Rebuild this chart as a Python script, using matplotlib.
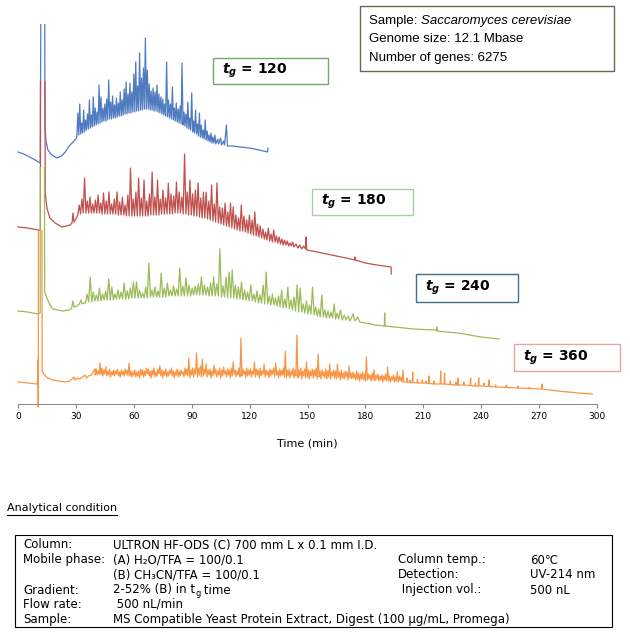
import matplotlib
matplotlib.use("Agg")
from matplotlib import pyplot as plt
from matplotlib.patches import Rectangle
from matplotlib.lines import Line2D

W, H = 630, 638

plt.rcParams['font.family'] = ['DejaVu Sans']
plt.rcParams['mathtext.fontset'] = 'custom'
plt.rcParams['mathtext.rm'] = 'DejaVu Sans'
plt.rcParams['mathtext.it'] = 'DejaVu Sans:italic:bold'
plt.rcParams['mathtext.bf'] = 'DejaVu Sans:bold'

# chromatograms: (time [min], signal [a.u., stacked offset])
trace_120 = [
    (0, 252), (3, 250), (6, 247), (9, 244), (11.5, 241), (11.9, 420), (13.8, 420), (14.0, 274), (14.6, 262),
    (15.5, 254), (17.5, 249), (20.2, 246), (22.5, 248), (24.5, 252), (26.5, 258), (28.5, 262), (30.0, 265),
    (30.5, 267), (31.0, 291), (31.5, 269), (32.0, 300), (32.5, 270), (33.0, 281), (33.5, 271), (34.0, 294),
    (34.5, 272), (35.0, 284), (35.5, 274), (36.0, 290), (36.5, 275), (37.0, 304), (37.5, 276), (38.0, 289),
    (38.5, 277), (39.0, 307), (39.5, 278), (40.0, 296), (40.5, 279), (41.0, 292), (41.5, 280), (42.0, 319),
    (42.5, 281), (43.0, 307), (43.5, 282), (44.0, 296), (44.5, 283), (45.0, 300), (45.5, 283), (46.0, 305),
    (46.5, 284), (47.0, 324), (47.5, 285), (48.0, 302), (48.5, 285), (49.0, 308), (49.5, 286), (50.0, 299),
    (50.5, 286), (51.0, 306), (51.5, 287), (52.0, 301), (52.5, 288), (53.0, 312), (53.5, 288), (54.0, 304),
    (54.5, 289), (55.0, 315), (55.5, 290), (56.0, 322), (56.5, 290), (57.0, 310), (57.5, 291), (58.0, 321),
    (58.5, 291), (59.0, 312), (59.5, 292), (60.0, 330), (60.5, 292), (61.0, 342), (61.5, 293), (62.0, 318),
    (62.5, 293), (63.0, 351), (63.5, 294), (64.0, 326), (64.5, 294), (65.0, 336), (65.5, 295), (66.0, 366),
    (66.5, 295), (67.0, 334), (67.5, 295), (68.0, 320), (68.5, 294), (69.0, 313), (69.5, 294), (70.0, 316),
    (70.5, 293), (71.0, 312), (71.5, 293), (72.0, 319), (72.5, 292), (73.0, 310), (73.5, 291), (74.0, 307),
    (74.5, 290), (75.0, 305), (75.5, 289), (76.0, 300), (76.5, 288), (77.0, 342), (77.5, 287), (78.0, 304),
    (78.5, 286), (79.0, 300), (79.5, 285), (80.0, 317), (80.5, 284), (81.0, 296), (81.5, 283), (82.0, 301),
    (82.5, 282), (83.0, 295), (83.5, 281), (84.0, 298), (84.5, 280), (85.0, 341), (85.5, 279), (86.0, 292),
    (86.5, 278), (87.0, 290), (87.5, 276), (88.0, 302), (88.5, 275), (89.0, 286), (89.5, 274), (90.0, 311),
    (90.5, 272), (91.0, 283), (91.5, 271), (92.0, 294), (92.5, 270), (93.0, 280), (93.5, 268), (94.0, 291),
    (94.5, 267), (95.0, 279), (95.5, 266), (96.0, 274), (96.5, 265), (97.0, 284), (97.5, 264), (98.0, 273),
    (98.5, 263), (99.0, 269), (99.5, 262), (100.0, 271), (100.5, 261), (101.0, 267), (101.5, 261), (102.0, 269),
    (102.5, 260), (103.5, 265), (104.0, 260), (105.0, 266), (105.5, 259), (106.5, 263), (107.0, 259),
    (108.0, 279), (108.5, 258), (111, 258), (115, 257), (120, 256), (125, 254), (129.3, 252), (129.5, 256),
]

trace_180 = [
    (0, 177), (5, 176), (10.5, 174), (11.6, 174), (11.7, 420), (13.9, 420), (14.1, 211), (15.0, 196),
    (16.5, 186), (19.2, 181), (22.8, 177), (27.0, 179), (28.0, 181), (28.5, 191), (29.0, 182), (30.0, 185),
    (31.0, 189), (31.7, 199), (32.4, 190), (33.1, 205), (33.8, 191), (34.5, 226), (35.2, 191), (35.9, 203),
    (36.6, 191), (37.3, 207), (38.0, 191), (38.7, 200), (39.4, 191), (40.1, 204), (40.8, 191), (41.5, 209),
    (42.2, 191), (42.9, 201), (43.6, 190), (44.3, 211), (45.0, 190), (45.7, 203), (46.4, 190), (47.1, 212),
    (47.8, 190), (48.5, 200), (49.2, 190), (49.9, 205), (50.6, 190), (51.3, 212), (52.0, 189), (52.7, 202),
    (53.4, 189), (54.1, 207), (54.8, 189), (55.5, 199), (56.2, 188), (56.9, 209), (57.6, 188), (58.3, 236),
    (59.0, 188), (59.7, 205), (60.4, 188), (61.1, 212), (61.8, 188), (62.5, 226), (63.2, 188), (63.9, 206),
    (64.6, 188), (65.3, 224), (66.0, 188), (66.7, 203), (67.4, 188), (68.1, 210), (68.8, 189), (69.5, 232),
    (70.2, 189), (70.9, 207), (71.6, 189), (72.3, 224), (73.0, 189), (73.7, 205), (74.4, 190), (75.1, 214),
    (75.8, 190), (76.5, 206), (77.2, 190), (77.9, 221), (78.6, 190), (79.3, 210), (80.0, 190), (80.7, 208),
    (81.4, 191), (82.1, 222), (82.8, 191), (83.5, 212), (84.2, 191), (84.9, 207), (85.6, 190), (86.3, 250),
    (87.0, 190), (87.7, 212), (88.4, 189), (89.1, 224), (89.8, 189), (90.5, 210), (91.2, 188), (91.9, 214),
    (92.6, 188), (93.3, 221), (94.0, 187), (94.7, 206), (95.4, 186), (96.1, 212), (96.8, 186), (97.5, 212),
    (98.2, 185), (98.9, 203), (99.6, 184), (100.3, 219), (101.0, 183), (101.7, 200), (102.4, 182), (103.1, 221),
    (103.8, 181), (104.5, 197), (105.2, 180), (105.9, 196), (106.6, 179), (107.3, 201), (108.0, 178),
    (108.7, 192), (109.4, 177), (110.1, 201), (110.8, 176), (111.5, 197), (112.2, 175), (112.9, 189),
    (113.6, 174), (114.3, 186), (115.0, 173), (115.7, 199), (116.4, 173), (117.1, 188), (117.8, 172),
    (118.5, 184), (119.2, 171), (119.9, 189), (120.6, 170), (121.3, 184), (122.0, 169), (122.7, 192),
    (123.4, 168), (124.1, 180), (124.8, 167), (125.5, 178), (126.2, 166), (126.9, 175), (127.6, 165),
    (128.3, 172), (129.0, 164), (129.7, 176), (130.4, 163), (131.1, 170), (131.8, 162), (132.5, 174),
    (133.2, 162), (133.9, 168), (134.6, 161), (135.3, 167), (136.0, 160), (136.7, 165), (137.4, 159),
    (138.1, 164), (138.8, 159), (139.5, 163), (140.2, 158), (140.9, 161), (141.6, 158), (142.3, 162),
    (143.0, 157), (144.0, 160), (145.0, 156), (146.0, 159), (147.0, 155), (148.0, 158), (149.0, 155),
    (149.3, 167), (149.6, 154), (155, 152), (160, 150), (165, 148), (170, 146), (174.4, 144), (174.6, 147),
    (174.8, 144), (180, 141), (186, 139), (193.3, 137), (193.4, 130),
]

trace_240 = [
    (0, 93), (5, 92), (10.3, 90), (11.5, 91), (11.6, 420), (13.6, 420), (13.8, 112), (15.0, 106), (16.5, 99),
    (18.1, 95), (22.8, 93), (26.5, 94), (27.8, 96), (28.4, 103), (29.0, 97), (30.6, 98), (31.8, 100),
    (32.6, 104), (33.2, 100), (34.2, 101),
    (35.0, 101), (35.8, 110), (36.6, 102), (37.4, 127), (38.2, 102), (39.0, 112), (39.8, 103), (40.6, 109),
    (41.4, 103), (42.2, 116), (43.0, 103), (43.8, 110), (44.6, 104), (45.4, 113), (46.2, 104), (47.0, 125),
    (47.8, 104), (48.6, 117), (49.4, 104), (50.2, 110), (51.0, 105), (51.8, 114), (52.6, 105), (53.4, 112),
    (54.2, 105), (55.0, 121), (55.8, 105), (56.6, 113), (57.4, 105), (58.2, 116), (59.0, 106), (59.8, 122),
    (60.6, 106), (61.4, 122), (62.2, 106), (63.0, 114), (63.8, 106), (64.6, 111), (65.4, 106), (66.2, 117),
    (67.0, 106), (67.8, 141), (68.6, 107), (69.4, 114), (70.2, 107), (71.0, 117), (71.8, 107), (72.6, 113),
    (73.4, 107), (74.2, 131), (75.0, 107), (75.8, 116), (76.6, 107), (77.4, 121), (78.2, 108), (79.0, 114),
    (79.8, 108), (80.6, 118), (81.4, 108), (82.2, 115), (83.0, 108), (83.8, 136), (84.6, 108), (85.4, 118),
    (86.2, 108), (87.0, 126), (87.8, 108), (88.6, 119), (89.4, 108), (90.2, 116), (91.0, 109), (91.8, 118),
    (92.6, 109), (93.4, 120), (94.2, 109), (95.0, 127), (95.8, 109), (96.6, 119), (97.4, 109), (98.2, 117),
    (99.0, 108), (99.8, 121), (100.6, 108), (101.4, 127), (102.2, 108), (103.0, 120), (103.8, 108),
    (104.6, 155), (105.4, 107), (106.2, 118), (107.0, 107), (107.8, 127), (108.6, 106), (109.4, 132),
    (110.2, 106), (111.0, 134), (111.8, 106), (112.6, 119), (113.4, 105), (114.2, 117), (115.0, 105),
    (115.8, 122), (116.6, 104), (117.4, 114), (118.2, 104), (119.0, 112), (119.8, 103), (120.6, 119),
    (121.4, 103), (122.2, 110), (123.0, 102), (123.8, 113), (124.6, 101), (125.4, 109), (126.2, 101),
    (127.0, 119), (127.8, 100), (128.6, 132), (129.4, 100), (130.2, 108), (131.0, 99), (131.8, 110),
    (132.6, 99), (133.4, 106), (134.2, 98), (135.0, 108), (135.8, 97), (136.6, 114), (137.4, 96), (138.2, 105),
    (139.0, 96), (139.8, 117), (140.6, 95), (141.4, 104), (142.2, 94), (143.0, 107), (143.8, 93), (144.6, 119),
    (145.4, 92), (146.2, 116), (147.0, 92), (147.8, 100), (148.6, 91), (149.4, 103), (150.2, 90), (151.0, 99),
    (151.8, 90), (152.6, 117), (153.4, 89), (154.2, 97), (155.0, 88), (155.8, 95), (156.6, 87), (157.4, 109),
    (158.2, 87), (159.0, 94), (159.8, 86), (160.6, 93), (161.4, 86), (162.2, 92), (163.0, 86), (163.8, 100),
    (164.6, 85), (165.4, 91), (166.2, 85), (167.0, 94), (168.0, 84), (169.0, 89), (170.0, 84), (171.0, 88),
    (172.0, 83), (173.6, 90), (174.5, 83), (176.0, 87), (177.0, 82),
    (180, 81), (185, 79), (189.8, 78), (190.0, 91), (190.2, 78), (195, 77), (200, 76), (205, 75), (210, 74.5),
    (216.8, 74), (217.0, 77), (217.2, 73), (222, 72), (228, 71), (234, 69), (240, 67), (245, 66), (249.2, 65),
]

trace_360 = [
    (0, 22), (5, 21), (10.0, 20), (10.3, 44), (10.5, -3), (10.7, 420), (12.3, 420), (12.5, 33), (13.5, 29),
    (15.5, 26), (18, 24), (21, 23), (24.4, 22), (26.5, 23), (28.0, 25), (29.0, 27), (29.5, 24), (30.5, 26),
    (32, 25), (33.5, 27), (34.7, 29), (35.5, 26), (36.5, 28), (38.0, 29), (39.2, 33), (39.9, 35),
    (40.0, 29), (40.5, 35), (41.0, 29), (41.5, 33), (42.0, 30), (42.5, 41), (43.0, 29), (43.5, 36), (44.0, 28),
    (44.5, 34), (45.0, 30), (45.5, 37), (46.0, 28), (46.5, 33), (47.0, 29), (47.5, 35), (48.0, 27), (48.5, 32),
    (49.0, 29), (49.5, 34), (50.0, 28), (50.5, 33), (51.0, 30), (51.5, 35), (52.0, 28), (52.5, 32), (53.0, 27),
    (53.5, 34), (54.0, 29), (54.5, 33), (55.0, 28), (55.5, 35), (56.0, 30), (56.5, 34), (57.0, 28), (57.5, 41),
    (58.0, 28), (58.5, 33), (59.0, 27), (59.5, 32), (60.0, 29), (60.5, 34), (61.0, 27), (61.5, 32), (62.0, 28),
    (62.5, 33), (63.0, 26), (63.5, 35), (64.0, 29), (64.5, 34), (65.0, 27), (65.5, 33), (66.0, 28), (66.5, 36),
    (67.0, 30), (67.5, 35), (68.0, 28), (68.5, 33), (69.0, 26), (69.5, 34), (70.0, 29), (70.5, 36), (71.0, 27),
    (71.5, 32), (72.0, 28), (72.5, 35), (73.0, 30), (73.5, 38), (74.0, 28), (74.5, 34), (75.0, 26), (75.5, 33),
    (76.0, 29), (76.5, 35), (77.0, 27), (77.5, 32), (78.0, 28), (78.5, 34), (79.0, 30), (79.5, 36), (80.0, 28),
    (80.5, 33), (81.0, 26), (81.5, 32), (82.0, 29), (82.5, 35), (83.0, 27), (83.5, 33), (84.0, 28), (84.5, 34),
    (85.0, 30), (85.5, 32), (86.0, 27), (86.5, 36), (87.0, 29), (87.5, 35), (88.0, 28), (88.5, 46), (89.0, 26),
    (89.5, 34), (90.0, 29), (90.5, 36), (91.0, 27), (91.5, 35), (92.0, 30), (92.5, 51), (93.0, 27), (93.5, 36),
    (94.0, 29), (94.5, 38), (95.0, 27), (95.5, 45), (96.0, 28), (96.5, 35), (97.0, 30), (97.5, 40), (98.0, 27),
    (98.5, 34), (99.0, 29), (99.5, 35), (100.0, 26), (100.5, 33), (101.0, 28), (101.5, 39), (102.0, 30),
    (102.5, 35), (103.0, 27), (103.5, 33), (104.0, 29), (104.5, 36), (105.0, 26), (105.5, 34), (106.0, 28),
    (106.5, 37), (107.0, 30), (107.5, 33), (108.0, 27), (108.5, 35), (109.0, 29), (109.5, 34), (110.0, 26),
    (110.5, 36), (111.0, 28), (111.5, 42), (112.0, 30), (112.5, 34), (113.0, 27), (113.5, 33), (114.0, 29),
    (114.5, 36), (115.0, 27), (115.5, 66), (116.0, 28), (116.5, 35), (117.0, 30), (117.5, 33), (118.0, 26),
    (118.5, 36), (119.0, 28), (119.5, 34), (120.0, 29), (120.5, 35), (121.0, 27), (121.5, 33), (122.0, 30),
    (122.5, 42), (123.0, 27), (123.5, 35), (124.0, 29), (124.5, 34), (125.0, 26), (125.5, 36), (126.0, 28),
    (126.5, 33), (127.0, 30), (127.5, 40), (128.0, 27), (128.5, 34), (129.0, 29), (129.5, 33), (130.0, 26),
    (130.5, 35), (131.0, 28), (131.5, 34), (132.0, 30), (132.5, 36), (133.0, 27), (133.5, 41), (134.0, 29),
    (134.5, 33), (135.0, 26), (135.5, 35), (136.0, 28), (136.5, 34), (137.0, 29), (137.5, 36), (138.0, 27),
    (138.5, 53), (139.0, 26), (139.5, 34), (140.0, 28), (140.5, 35), (141.0, 26), (141.5, 33), (142.0, 29),
    (142.5, 36), (143.0, 26), (143.5, 34), (144.0, 28), (144.5, 69), (145.0, 26), (145.5, 34), (146.0, 28),
    (146.5, 36), (147.0, 25), (147.5, 33), (148.0, 28), (148.5, 35), (149.0, 26), (149.5, 42), (150.0, 27),
    (150.5, 34), (151.0, 25), (151.5, 33), (152.0, 28), (152.5, 35), (153.0, 26), (153.5, 34), (154.0, 28),
    (154.5, 36), (155.0, 25), (155.5, 50), (156.0, 27), (156.5, 33), (157.0, 25), (157.5, 34), (158.0, 28),
    (158.5, 32), (159.0, 26), (159.5, 35), (160.0, 25), (160.5, 33), (161.0, 27), (161.5, 40), (162.0, 25),
    (162.5, 32), (163.0, 28), (163.5, 34), (164.0, 26), (164.5, 33), (165.0, 25), (165.5, 40), (166.0, 27),
    (166.5, 32), (167.0, 24), (167.5, 34), (168.0, 26), (168.5, 31), (169.0, 25), (169.5, 33), (170.0, 27),
    (170.5, 32), (171.0, 24), (171.5, 38), (172.0, 26), (172.5, 31), (173.0, 25), (173.5, 32), (174.0, 26),
    (174.5, 30), (175.0, 24), (175.5, 33), (176.0, 25), (176.5, 31), (177.0, 23), (177.5, 30), (178.0, 25),
    (178.5, 32), (179.0, 24), (179.5, 30), (180.0, 23), (180.5, 47), (181.0, 24), (181.5, 30), (182.0, 25),
    (182.5, 29), (183.0, 23), (183.5, 31), (184.0, 24), (184.5, 34), (185.0, 23), (185.5, 29), (186.0, 25),
    (186.5, 30), (187.0, 23), (187.5, 28), (188.0, 24), (188.5, 29), (189.0, 22), (189.5, 28), (190.0, 24),
    (190.5, 30), (191.0, 23), (191.5, 37), (192.0, 23), (192.5, 28), (193.0, 22), (193.5, 27), (194.0, 24),
    (194.5, 29), (195.0, 22), (195.5, 27), (196.0, 23), (196.5, 32), (197.0, 22), (197.5, 28), (198.0, 23),
    (198.5, 27), (199.0, 22), (199.5, 34), (199.8, 22),
    (201.3, 22), (201.5, 26), (201.7, 22), (202.8, 22), (203.0, 24), (203.2, 21.5), (204.3, 21.5), (204.5, 32),
    (204.7, 21.5), (206.8, 21), (207.0, 25), (207.2, 21), (209.3, 21), (209.5, 24), (209.7, 21),
    (211.3, 21), (211.5, 23), (211.7, 20.5), (212.8, 20.5), (213.0, 28), (213.2, 20.5), (215.3, 20),
    (215.5, 23), (215.7, 20), (218.8, 20), (219.0, 33), (219.2, 20), (220.8, 20), (221.0, 31), (221.2, 20),
    (223.8, 19.5), (224.0, 23), (224.2, 19.5), (226.8, 19), (227.0, 22), (227.2, 19), (227.8, 19),
    (228.0, 26), (228.2, 19), (230.8, 19), (231.0, 22), (231.2, 19), (234.3, 18.5), (234.5, 26),
    (234.7, 18.5), (236.8, 18), (237.0, 21), (237.2, 18), (238.5, 18), (238.7, 26), (238.9, 18),
    (241.3, 18), (241.5, 21), (241.7, 18), (243.8, 17.5), (244.0, 24), (244.2, 17.5), (247.3, 17),
    (247.5, 19), (247.7, 17), (252.8, 16.5), (253.0, 19), (253.2, 16.5), (258.8, 16), (259.0, 18),
    (259.2, 16), (264.8, 15.5), (265.0, 17), (265.2, 15.5), (271.3, 15), (271.5, 20), (271.7, 15),
    (275, 14), (280, 13), (285, 12), (290, 11), (294, 10.5), (297.5, 10),
]

traces = [trace_120, trace_180, trace_240, trace_360]
colors = ['#4f7bc0', '#c0504d', '#9bbb59', '#f79646']
# each run was its own overlaid chart; its injection spike is cut at that chart's top
clip_tops = [380, 323, 237, 174]
gradient_times = [120, 180, 240, 360]
label_edges = ['#77a866', '#a9cfa0', '#41707f', '#e8a4a4']
x_ticks = [0, 30, 60, 90, 120, 150, 180, 210, 240, 270, 300]

sample_info = ['Genome size: 12.1 Mbase', 'Number of genes: 6275']
cond_left = [
    ('Column:', 'ULTRON HF-ODS (C) 700 mm L x 0.1 mm I.D.'),
    ('Mobile phase:', '(A) H₂O/TFA = 100/0.1'),
    ('', '(B) CH₃CN/TFA = 100/0.1'),
    ('Gradient:', None),
    ('Flow rate:', ' 500 nL/min'),
    ('Sample:', 'MS Compatible Yeast Protein Extract, Digest (100 μg/mL, Promega)'),
]
gradient_parts = ['2-52% (B) in t', 'g', ' time']
cond_right = [
    ('Column temp.:', '60℃'),
    ('Detection:', 'UV-214 nm'),
    (' Injection vol.:', '500 nL'),
]


def fx(px):
    return px / W


def fy(py):
    return 1 - py / H


def frame(fig, x0, y0, x1, y1, color, lw=1.0):
    fig.add_artist(Rectangle((fx(x0), fy(y1)), (x1 - x0) / W, (y1 - y0) / H,
                             transform=fig.transFigure, fill=False, ec=color, lw=lw))


fig = plt.figure(figsize=(W / 100, H / 100), dpi=100)
ax = fig.add_axes([fx(18), fy(404), (597 - 18) / W, (404 - 24) / H])

for trace, color, top in zip(traces, colors, clip_tops):
    t = [p[0] for p in trace]
    s = [p[1] for p in trace]
    line, = ax.plot(t, s, color=color, lw=0.9)
    line.set_clip_path(Rectangle((-5, -10), 310, top + 10, transform=ax.transData))

ax.set_xlim(0, 300)
ax.set_ylim(0, 380)
ax.set_yticks([])
ax.set_xticks(x_ticks)
ax.set_xticklabels([str(v) for v in x_ticks])
for side in ['left', 'top', 'right']:
    ax.spines[side].set_visible(False)
ax.spines['bottom'].set_color('#8c8c8c')
ax.spines['bottom'].set_linewidth(0.8)
ax.tick_params(axis='x', direction='out', length=3, width=0.8, color='#8c8c8c',
               labelsize=6.5, pad=3)
ax.patch.set_visible(False)

fig.text(fx(307), fy(443), 'Time (min)', ha='center', va='center', fontsize=8)

# t_g labels
label_boxes = [(213, 58, 328, 84), (312, 189, 413, 215), (416, 274, 518, 302), (514, 344, 620, 371)]
for (x0, y0, x1, y1), tg, ec in zip(label_boxes, gradient_times, label_edges):
    frame(fig, x0, y0, x1, y1, ec, lw=1.0)
    fig.text(fx(x0 + 9), fy((y0 + y1) / 2), r'$t_g$' + ' = %d' % tg, ha='left', va='center',
             fontsize=10, fontweight='bold')

# sample box
frame(fig, 360, 6, 614, 71, '#6b6650', lw=1.0)
r = fig.canvas.get_renderer()
t1 = fig.text(fx(369), fy(21), 'Sample: ', ha='left', va='center', fontsize=9.5,
              family='Liberation Sans')
bb = t1.get_window_extent(renderer=r)
fig.text(bb.x1 / W, fy(21), 'Saccaromyces cerevisiae', ha='left', va='center', fontsize=9.5,
         family='Liberation Sans', style='italic')
for i, line in enumerate(sample_info):
    fig.text(fx(369), fy(39 + 19 * i), line, ha='left', va='center', fontsize=9.5,
             family='Liberation Sans')

# analytical condition
ac = fig.text(fx(7), fy(508), 'Analytical condition', ha='left', va='center', fontsize=8)
bb = ac.get_window_extent(renderer=r)
fig.add_artist(Line2D([bb.x0 / W, bb.x1 / W], [fy(515), fy(515)], transform=fig.transFigure,
                      color='black', lw=0.8))

frame(fig, 15, 535, 612, 627, 'black', lw=0.8)
rows_y = [545, 560, 575, 590, 604, 619]
fs = 8.5
for (lab, val), y in zip(cond_left, rows_y):
    fig.text(fx(23), fy(y), lab, ha='left', va='center', fontsize=fs)
    if val is not None:
        fig.text(fx(113), fy(y), val, ha='left', va='center', fontsize=fs)
    else:
        # "t" with a lowered small "g", as in the reference
        x = fx(113)
        for part, size, dy in zip(gradient_parts, [fs, fs * 0.7, fs], [0, 3, 0]):
            tx = fig.text(x, fy(y + dy), part, ha='left', va='center', fontsize=size)
            x = tx.get_window_extent(renderer=r).x1 / W
for (lab, val), y in zip(cond_right, rows_y[1:4]):
    fig.text(fx(398), fy(y), lab, ha='left', va='center', fontsize=fs)
    fig.text(fx(530), fy(y), val, ha='left', va='center', fontsize=fs)

fig.savefig('out.png', dpi=100)
